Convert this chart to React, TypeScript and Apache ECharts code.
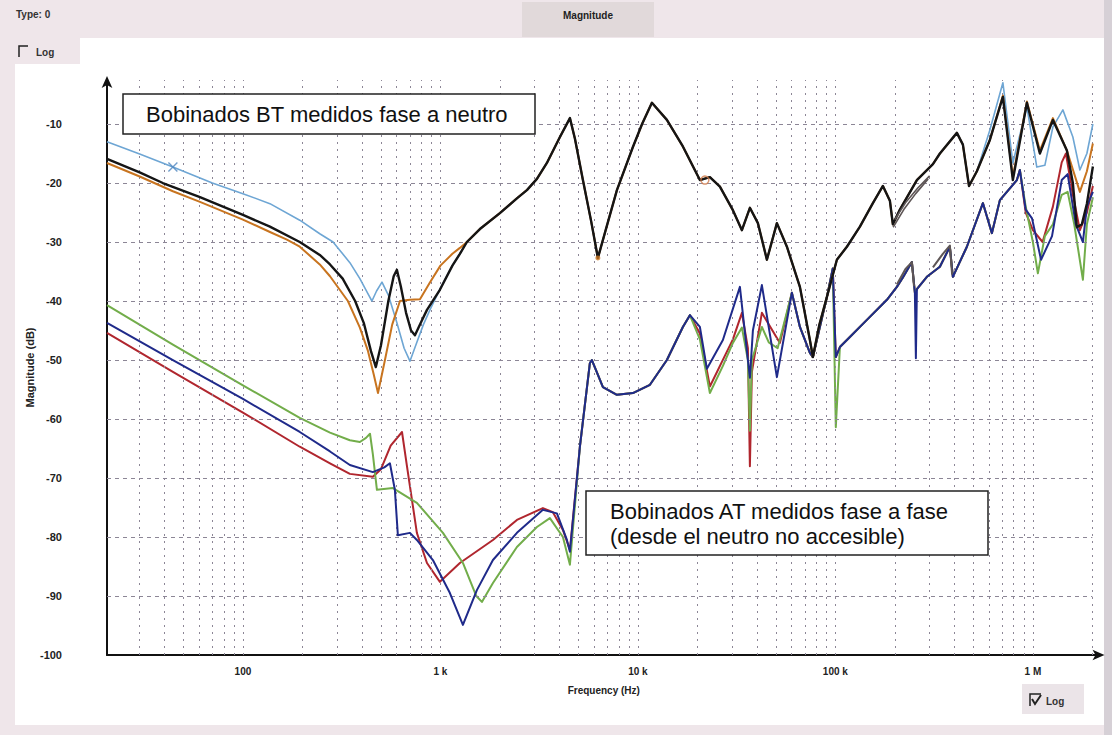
import React, { useEffect, useRef } from "react";
import * as echarts from "echarts";

type Pt = [number, number];

// ---------- BT windings (phase to neutral): frequency [Hz], magnitude [dB] ----------
const btLightBlueLow: Pt[] = [
  [20.5, -13.0], [30, -15.1], [44.2, -17.3], [70, -20.0], [100, -21.8], [137, -23.5],
  [194, -26.3], [245, -28.6], [286, -30.0], [348, -33.5], [391, -36.2], [430, -38.8],
  [450, -40.0], [475, -38.3], [506, -36.8], [545, -39.0], [600, -43.5], [655, -48.0],
  [701, -50.2], [760, -47.0], [820, -44.0], [885, -41.5], [994, -38.0], [1150, -34.0],
  [1255, -32.0],
];
const btBlackLow: Pt[] = [
  [20.5, -15.9], [30, -18.2], [39.3, -20.0], [60.6, -22.4], [100, -25.4], [137, -27.4],
  [194, -30.0], [245, -32.2], [276, -33.8], [320, -36.2], [370, -40.0], [410, -43.8],
  [445, -48.5], [471, -51.2], [500, -47.5], [545, -40.0], [580, -35.8], [602, -34.7],
  [630, -37.5], [670, -42.0], [710, -45.0], [743, -45.8], [800, -43.5], [855, -41.5],
  [994, -38.1], [1150, -34.0], [1255, -32.0],
];
const btOrangeLow: Pt[] = [
  [20.5, -16.6], [30, -18.9], [44.2, -21.4], [60.6, -23.2], [100, -26.2], [137, -28.3],
  [167, -29.6], [194, -30.8], [245, -33.8], [276, -35.8], [340, -40.0], [391, -44.5],
  [430, -48.5], [460, -52.5], [483, -55.6], [520, -50.5], [570, -44.0], [624, -40.0],
  [700, -39.8], [788, -39.7], [880, -37.0], [1000, -34.0], [1150, -32.0], [1255, -31.0],
];
// section where the three BT traces lie on top of each other
const btCommon: Pt[] = [
  [1362, -30.0], [1585, -27.8], [2001, -25.1], [2440, -22.6], [2742, -21.2], [3081, -19.3],
  [3461, -16.6], [4029, -12.2], [4527, -9.0], [4800, -12.5], [5267, -19.5], [5800, -26.5],
  [6272, -32.7], [6800, -28.5], [7830, -21.2], [9434, -13.9], [10500, -10.0], [11774, -6.4],
  [14023, -9.3], [16895, -13.8], [20603, -19.5], [23150, -19.0], [26012, -20.6], [30269, -24.6],
  [33625, -28.0], [36908, -24.2], [40510, -26.8], [45000, -33.0], [50558, -26.8], [56820, -30.8],
  [66120, -37.6], [74290, -46.6], [76930, -49.5], [83000, -44.0], [90600, -39.3], [101760, -33.0],
  [114370, -30.8], [133090, -27.4], [154870, -23.4], [174020, -20.5], [188780, -23.0],
  [195490, -27.0], [212130, -24.5], [258630, -19.5], [311800, -16.8], [338200, -15.0],
  [412300, -11.5], [442200, -13.5], [475000, -20.5], [520600, -18.0],
];
const btLightBlueHigh: Pt[] = [
  [605700, -11.0], [704900, -3.0], [791800, -16.6], [932600, -7.1], [1047000, -17.3],
  [1150000, -17.0], [1263000, -10.5], [1419000, -7.6], [1594000, -12.2], [1730000, -17.8],
  [1877000, -15.0], [2013000, -10.0],
];
const btBlackHigh: Pt[] = [
  [605700, -12.7], [704900, -5.4], [791800, -19.5], [932600, -6.4], [1085000, -15.0],
  [1263000, -9.3], [1487000, -14.5], [1594000, -20.0], [1670000, -27.5], [1770000, -27.0],
  [1877000, -23.5], [2013000, -17.2],
];
const btOrangeHigh: Pt[] = [
  [605700, -12.7], [704900, -5.2], [791800, -19.0], [932600, -6.2], [1085000, -14.5],
  [1263000, -9.0], [1487000, -14.5], [1730000, -21.5], [1877000, -18.0], [2013000, -13.3],
];

// ---------- AT windings (phase to phase) ----------
const atGreenLow: Pt[] = [
  [20.5, -40.7], [44.2, -47.4], [100, -54.3], [194, -59.8], [276, -62.3], [348, -63.6],
  [391, -63.9], [420, -63.2], [440, -62.5], [455, -66.0], [477, -72.0], [575, -71.7],
  [760, -74.2], [1030, -79.3], [1300, -84.4], [1520, -90.0], [1622, -91.0], [1845, -87.8],
  [2440, -81.7], [3081, -78.3], [3584, -76.8], [4172, -80.0], [4527, -84.7],
];
const atBlueLow: Pt[] = [
  [20.5, -43.7], [44.2, -50.0], [100, -56.6], [194, -62.2], [276, -65.5], [348, -67.8],
  [455, -69.0], [520, -68.2], [555, -67.5], [588, -72.0], [609, -79.7], [701, -79.3],
  [760, -80.5], [916, -83.9], [1117, -89.5], [1300, -94.9], [1530, -89.0], [1845, -83.9],
  [2440, -79.3], [3304, -75.4], [3890, -76.0], [4371, -80.5], [4527, -82.5],
];
const atRedLow: Pt[] = [
  [20.5, -45.4], [44.2, -52.0], [100, -58.9], [194, -64.7], [276, -67.5], [348, -69.3],
  [455, -69.8], [500, -68.5], [560, -64.5], [639, -62.2], [677, -68.0], [760, -79.3],
  [855, -84.4], [994, -87.6], [1255, -84.4], [1845, -80.5], [2440, -77.1], [3304, -75.1],
  [3712, -75.8], [4172, -78.8], [4527, -82.2],
];
const atCommonA: Pt[] = [
  [5085, -64.7], [5714, -50.5], [5849, -50.0], [6651, -54.6], [7830, -55.9], [9434, -55.6],
  [11506, -54.2], [14023, -50.0], [16895, -44.4], [18336, -42.4],
];
const atGreenMid: Pt[] = [
  [20603, -46.5], [23150, -55.6], [26940, -51.0], [30269, -47.1], [33625, -44.5], [36058, -50.0],
  [36908, -62.0], [37776, -50.0], [42440, -44.4], [46000, -47.0], [51000, -48.0], [60210, -38.6],
  [66120, -44.4], [74290, -48.8], [76930, -49.5], [90600, -39.3], [97000, -34.5], [100500, -61.4],
  [105400, -47.8],
];
const atBlueMid: Pt[] = [
  [20603, -44.4], [22356, -51.5], [26940, -46.6], [32850, -37.6], [36058, -50.0], [36908, -53.0],
  [38220, -45.0], [42440, -37.3], [50558, -52.9], [60210, -38.6], [66120, -44.4], [74290, -48.8],
  [76930, -49.5], [90600, -39.3], [97000, -34.5], [100500, -49.5], [105400, -47.8],
];
const atRedMid: Pt[] = [
  [20603, -45.5], [23150, -54.5], [30269, -46.5], [33625, -42.0], [36058, -48.0], [36908, -68.0],
  [37776, -52.0], [42440, -42.0], [52360, -47.1], [60210, -38.6], [66120, -44.4], [74290, -48.8],
  [76930, -49.5], [90600, -39.3], [97000, -34.5], [100500, -49.5], [105400, -47.8],
];
const atCommonB1: Pt[] = [
  [118420, -46.1], [144370, -43.2], [182320, -39.8], [204800, -37.6], [219690, -36.0],
  [243960, -33.4], [252640, -38.6],
];
const atBlueNotch: Pt[] = [[255600, -49.7]];
const atCommonB2: Pt[] = [
  [258630, -38.0], [290600, -35.9], [338200, -34.2], [379900, -30.8], [393400, -35.9],
  [463300, -30.8], [558300, -23.4], [620000, -28.5], [680700, -22.9], [829800, -19.5],
  [859300, -17.8],
];
const atGreenHigh: Pt[] = [
  [920000, -24.0], [1000000, -30.0], [1060000, -35.3], [1150000, -29.0], [1263000, -27.0],
  [1400000, -22.0], [1500000, -21.5], [1620000, -27.0], [1792000, -36.4], [1877000, -27.0],
  [2013000, -22.4],
];
const atBlueHigh: Pt[] = [
  [920000, -24.5], [990000, -26.0], [1100000, -33.0], [1250000, -29.0], [1400000, -19.5],
  [1500000, -18.5], [1650000, -27.0], [1792000, -30.0], [1877000, -24.0], [2013000, -21.5],
];
const atRedHigh: Pt[] = [
  [920000, -25.0], [1000000, -28.0], [1120000, -30.0], [1263000, -24.0], [1400000, -16.5],
  [1470000, -15.0], [1594000, -22.0], [1730000, -28.0], [1877000, -25.0], [2013000, -20.5],
];

// extra dark-grey traces around 200–400 kHz
const greyTraceA: Pt[] = [[196000, -27.5], [222000, -24.5], [255000, -21.8], [295000, -19.3]];
const greyTraceB: Pt[] = [[200000, -26.2], [228000, -23.2], [262000, -20.8], [300000, -18.8]];
const greyTraceC: Pt[] = [[204800, -37.2], [226000, -34.6], [243960, -33.4], [250000, -37.5]];
const greyTraceD: Pt[] = [[311800, -34.3], [350000, -32.0], [379900, -30.6], [390000, -35.5]];

// cursor marks
const crossMark: Pt[] = [[44.2, -17.3]];
const cursorRing: Pt[] = [[21836, -19.5]];
const cursorDot: Pt[] = [[6272, -32.7]];

// axis set-up
const freqMin = 20.5;
const freqMax = 2.2e6;
const gridFreqMax = 2e6;
const dbMin = -100;
const dbMax = -2.54;
const dbGridLevels = [-90, -80, -70, -60, -50, -40, -30, -20, -10];
const decades = [10, 100, 1000, 1e4, 1e5, 1e6];
const decadeNames: Record<number, string> = { 2: "100", 3: "1 k", 4: "10 k", 5: "100 k", 6: "1 M" };

const C = {
  lightBlue: "#6ea6d4",
  black: "#151515",
  orange: "#c8741f",
  green: "#72ad4a",
  blue: "#1f2a8a",
  red: "#b0262e",
  grey: "#5e5656",
  grid: "#8c8696",
};

const FONT = '"Liberation Sans", Arial, sans-serif';

function line(name: string, data: Pt[], color: string, width: number, z: number) {
  return {
    type: "line",
    name,
    data,
    symbol: "none",
    showSymbol: false,
    silent: true,
    z,
    lineStyle: { color, width, join: "round" },
    itemStyle: { color },
  };
}

export default function App() {
  const ref = useRef<HTMLDivElement>(null);

  useEffect(() => {
    document.body.style.margin = "0";
    const chart = echarts.init(ref.current!, undefined, { renderer: "svg" });

    const vertGrid: any[] = [];
    decades.forEach((d) => {
      for (let m = 1; m <= 9; m++) {
        const f = m * d;
        if (f > freqMin * 1.05 && f <= gridFreqMax) {
          vertGrid.push([{ coord: [f, dbMin] }, { coord: [f, dbMax] }]);
        }
      }
    });
    const horGrid = dbGridLevels.map((v) => [{ coord: [freqMin, v] }, { coord: [gridFreqMax, v] }]);

    const xFormatter = (v: number) => {
      const e = Math.log10(v);
      const r = Math.round(e);
      if (Math.abs(e - r) > 1e-6) return "";
      return decadeNames[r] ?? "";
    };
    const yFormatter = (v: number) =>
      Math.abs(v % 10) < 1e-6 && v <= -10 ? String(Math.round(v)) : "";

    const option: any = {
      animation: false,
      backgroundColor: "#efe6ea",
      grid: { left: 107, right: 11.5, top: 80, bottom: 80, containLabel: false },
      xAxis: {
        type: "log",
        logBase: 10,
        min: freqMin,
        max: freqMax,
        name: "Frequency (Hz)",
        nameLocation: "middle",
        nameGap: 30,
        nameMoveOverlap: false,
        nameTextStyle: { fontFamily: FONT, fontSize: 10, fontWeight: "bold", color: "#222" },
        axisLine: {
          show: true,
          onZero: false,
          symbol: ["none", "arrow"],
          symbolSize: [8, 12],
          symbolOffset: [0, 4],
          lineStyle: { color: "#111", width: 2 },
        },
        axisTick: { show: false },
        splitLine: { show: false },
        minorTick: { show: false },
        axisLabel: {
          formatter: xFormatter,
          margin: 11,
          fontFamily: FONT,
          fontSize: 10,
          fontWeight: "bold",
          color: "#222",
          showMinLabel: false,
          showMaxLabel: false,
        },
      },
      yAxis: {
        type: "value",
        min: dbMin,
        max: dbMax,
        interval: 10,
        name: "Magnitude (dB)",
        nameLocation: "middle",
        nameRotate: 90,
        nameGap: 72,
        nameMoveOverlap: false,
        nameTextStyle: { fontFamily: FONT, fontSize: 11, fontWeight: "bold", color: "#222" },
        axisLine: {
          show: true,
          onZero: false,
          symbol: ["none", "arrow"],
          symbolSize: [8, 12],
          symbolOffset: [0, 4],
          lineStyle: { color: "#111", width: 2 },
        },
        axisTick: { show: false },
        splitLine: { show: false },
        axisLabel: {
          formatter: yFormatter,
          margin: 45,
          fontFamily: FONT,
          fontSize: 11,
          fontWeight: "bold",
          color: "#222",
        },
      },
      graphic: [
        { type: "rect", z: -10, silent: true, shape: { x: 15, y: 38, width: 1090, height: 687 }, style: { fill: "#ffffff" } },
        { type: "rect", z: -9, silent: true, shape: { x: 1104, y: 0, width: 8, height: 735 }, style: { fill: "#d6d0d6" } },
        { type: "rect", z: -9, silent: true, shape: { x: 0, y: 38, width: 80, height: 26 }, style: { fill: "#efe6ea" } },
        { type: "rect", z: -9, silent: true, shape: { x: 522, y: 2, width: 132, height: 35 }, style: { fill: "#e1d9da" } },
        { type: "text", z: 5, silent: true, style: { x: 16, y: 14, text: "Type: 0", fontFamily: FONT, fontSize: 10, fontWeight: "bold", fill: "#333", verticalAlign: "middle" } },
        { type: "text", z: 5, silent: true, style: { x: 588, y: 15, text: "Magnitude", fontFamily: FONT, fontSize: 10, fontWeight: "bold", fill: "#222", align: "center", verticalAlign: "middle" } },
        { type: "polyline", z: 5, silent: true, shape: { points: [[19, 57], [19, 46], [28, 46]] }, style: { stroke: "#222", lineWidth: 1.5, fill: "none" } },
        { type: "text", z: 5, silent: true, style: { x: 36, y: 52, text: "Log", fontFamily: FONT, fontSize: 10, fontWeight: "bold", fill: "#333", verticalAlign: "middle" } },
        { type: "rect", z: -8, silent: true, shape: { x: 1022, y: 684, width: 62, height: 30 }, style: { fill: "#ebe4e8" } },
        { type: "polyline", z: 5, silent: true, shape: { points: [[1030, 706], [1030, 694], [1041, 694]] }, style: { stroke: "#222", lineWidth: 1.5, fill: "none" } },
        { type: "polyline", z: 5, silent: true, shape: { points: [[1032, 699], [1035, 704], [1041, 695]] }, style: { stroke: "#222", lineWidth: 2, fill: "none" } },
        { type: "text", z: 5, silent: true, style: { x: 1046, y: 701, text: "Log", fontFamily: FONT, fontSize: 10, fontWeight: "bold", fill: "#333", verticalAlign: "middle" } },
        // annotation boxes
        { type: "rect", z: 50, silent: true, shape: { x: 123, y: 94, width: 412, height: 40 }, style: { fill: "#ffffff", stroke: "#222", lineWidth: 1.5 } },
        { type: "text", z: 51, silent: true, style: { x: 146, y: 114, text: "Bobinados BT medidos fase a neutro", fontFamily: FONT, fontSize: 22, fill: "#111", verticalAlign: "middle" } },
        { type: "rect", z: 50, silent: true, shape: { x: 586, y: 491, width: 402, height: 64 }, style: { fill: "#ffffff", stroke: "#222", lineWidth: 1.5 } },
        { type: "text", z: 51, silent: true, style: { x: 610, y: 511, text: "Bobinados AT medidos fase a fase", fontFamily: FONT, fontSize: 22, fill: "#111", verticalAlign: "middle" } },
        { type: "text", z: 51, silent: true, style: { x: 610, y: 536, text: "(desde el neutro no accesible)", fontFamily: FONT, fontSize: 22, fill: "#111", verticalAlign: "middle" } },
      ],
      series: [
        {
          type: "line",
          data: [[freqMin, dbMin]],
          symbol: "none",
          silent: true,
          z: 1,
          lineStyle: { opacity: 0 },
          markLine: {
            silent: true,
            symbol: ["none", "none"],
            label: { show: false },
            animation: false,
            lineStyle: { color: C.grid, width: 1, type: [2, 5] },
            data: vertGrid,
          },
        },
        {
          type: "line",
          data: [[freqMin, dbMin]],
          symbol: "none",
          silent: true,
          z: 1,
          lineStyle: { opacity: 0 },
          markLine: {
            silent: true,
            symbol: ["none", "none"],
            label: { show: false },
            animation: false,
            lineStyle: { color: C.grid, width: 1, type: [4, 4] },
            data: horGrid,
          },
        },
        line("AT rojo", [...atRedLow, ...atCommonA, ...atRedMid, ...atCommonB1, ...atCommonB2, ...atRedHigh], C.red, 2, 3),
        line("AT verde", [...atGreenLow, ...atCommonA, ...atGreenMid, ...atCommonB1, ...atCommonB2, ...atGreenHigh], C.green, 2, 4),
        line("AT azul", [...atBlueLow, ...atCommonA, ...atBlueMid, ...atCommonB1, ...atBlueNotch, ...atCommonB2, ...atBlueHigh], C.blue, 2, 5),
        line("BT celeste", [...btLightBlueLow, ...btCommon, ...btLightBlueHigh], C.lightBlue, 1.6, 6),
        line("BT naranja", [...btOrangeLow, ...btCommon, ...btOrangeHigh], C.orange, 2, 7),
        line("BT negro", [...btBlackLow, ...btCommon, ...btBlackHigh], C.black, 2.4, 8),
        line("gris A", greyTraceA, C.grey, 1.6, 9),
        line("gris B", greyTraceB, C.grey, 1.6, 9),
        line("gris C", greyTraceC, C.grey, 2, 9),
        line("gris D", greyTraceD, C.grey, 2, 9),
        {
          type: "scatter",
          data: crossMark,
          z: 10,
          silent: true,
          symbol: "path://M0,1 L1,0 L5,4 L9,0 L10,1 L6,5 L10,9 L9,10 L5,6 L1,10 L0,9 L4,5 Z",
          symbolSize: 10,
          itemStyle: { color: "#4f86bf" },
        },
        {
          type: "scatter",
          data: cursorRing,
          z: 10,
          silent: true,
          symbol: "circle",
          symbolSize: 8,
          itemStyle: { color: "rgba(255,255,255,0)", borderColor: "#d07a4a", borderWidth: 1.5 },
        },
        {
          type: "scatter",
          data: cursorDot,
          z: 10,
          silent: true,
          symbol: "circle",
          symbolSize: 5,
          itemStyle: { color: C.orange },
        },
      ],
    };

    chart.setOption(option);
    return () => chart.dispose();
  }, []);

  return <div ref={ref} style={{ width: 1112, height: 735 }} />;
}
